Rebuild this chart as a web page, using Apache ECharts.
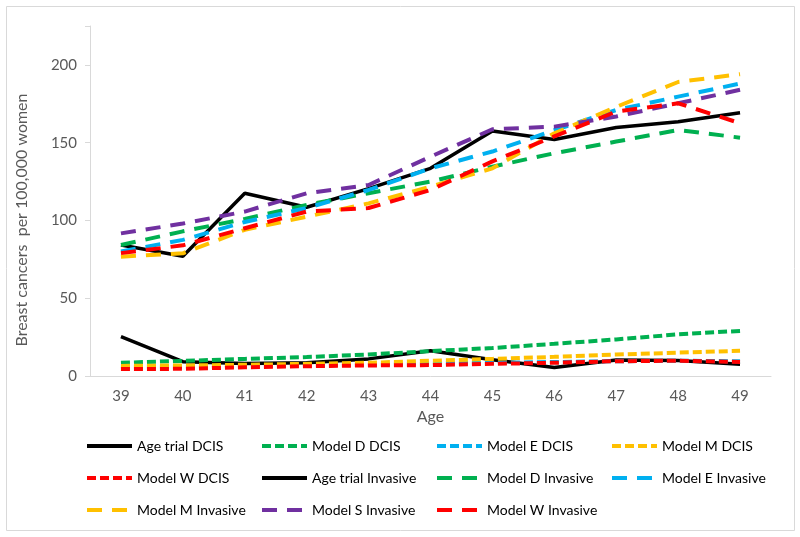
<!DOCTYPE html>
<html><head><meta charset="utf-8">
<script src="https://cdn.jsdelivr.net/npm/echarts@6/dist/echarts.min.js"></script>
<style>html,body{margin:0;padding:0;background:#fff}#c{width:800px;height:537px}</style>
</head><body><div id="c"></div>
<script>
const ages = ['39','40','41','42','43','44','45','46','47','48','49'];
const ageTrialDCIS   = [25.3, 9.2, 8.1, 8.5, 11, 16.3, 10.5, 5.4, 10.3, 10, 7.5];
const modelDDCIS     = [8.5, 9.7, 11, 12.2, 13.8, 16, 18, 20.7, 23.5, 26.8, 29];
const modelEDCIS     = [5.5, 5.8, 6.3, 6.8, 7.2, 8, 8.5, 9, 9.5, 9.8, 9.5];
const modelMDCIS     = [6.5, 6.8, 7.2, 7.8, 8.5, 9.8, 11, 12.3, 13.8, 15, 16.2];
const modelWDCIS     = [4.5, 4.6, 5.6, 6.3, 6.8, 7, 7.8, 8.5, 9.5, 9.8, 9];
const ageTrialInv    = [84.2, 77, 117.5, 108.5, 120.5, 133.5, 157.5, 152, 159.7, 163.5, 169.3];
const modelDInv      = [84.2, 93, 101, 110, 117.5, 125, 134.6, 143.2, 150.7, 158.2, 153.2];
const modelEInv      = [80, 87.5, 99, 108, 119.6, 133.5, 144.3, 158, 171, 179.6, 188];
const modelMInv      = [76.7, 78.9, 94, 102.4, 111, 121.7, 133.5, 156, 173, 189, 194];
const modelSInv      = [91.7, 98, 105.7, 117.5, 122.8, 141, 158.6, 160.3, 166.8, 175.3, 184];
const modelWInv      = [79, 84, 95, 105.7, 108, 119.6, 138, 154, 170, 175.3, 162.5];
const yTicks = [0, 50, 100, 150, 200];

const C = {black:'#000000', green:'#00B050', blue:'#00B0F0', yellow:'#FFC000', red:'#FF0000', purple:'#7030A0'};
const DCIS_DASH = [9, 4];
const INV_DASH = [15, 10];

const seriesDefs = [
  ['Age trial DCIS', ageTrialDCIS, C.black, 'solid'],
  ['Model D DCIS', modelDDCIS, C.green, DCIS_DASH],
  ['Model E DCIS', modelEDCIS, C.blue, DCIS_DASH],
  ['Model M DCIS', modelMDCIS, C.yellow, DCIS_DASH],
  ['Model W DCIS', modelWDCIS, C.red, DCIS_DASH],
  ['Age trial Invasive', ageTrialInv, C.black, 'solid'],
  ['Model D Invasive', modelDInv, C.green, INV_DASH],
  ['Model E Invasive', modelEInv, C.blue, INV_DASH],
  ['Model M Invasive', modelMInv, C.yellow, INV_DASH],
  ['Model S Invasive', modelSInv, C.purple, INV_DASH],
  ['Model W Invasive', modelWInv, C.red, INV_DASH]
];

const FONT = 'Lato';
const colX = [85, 260, 435, 610];
const rowY = [446, 478, 510];
const legends = seriesDefs.map((d, i) => ({
  data: [d[0]],
  left: colX[i % 4],
  top: rowY[Math.floor(i / 4)] - 7,
  itemWidth: 45,
  itemHeight: 14,
  padding: 0,
  selectedMode: false,
  itemStyle: {opacity: 0},
  lineStyle: {width: 4},
  textStyle: {fontFamily: FONT, fontSize: 14, color: '#000'}
}));

const chart = echarts.init(document.getElementById('c'));
chart.setOption({
  animation: false,
  backgroundColor: '#fff',
  grid: {left: 90, right: 29, top: 26, bottom: 161, containLabel: false},
  legend: legends,
  graphic: [
    {type: 'rect', shape: {x: 6.5, y: 6.5, width: 788, height: 524}, style: {fill: 'none', stroke: '#d9d9d9', lineWidth: 1}, silent: true, z: -1},
    {type: 'text', x: 22, y: 220, rotation: Math.PI / 2,
     style: {text: 'Breast cancers  per 100,000 women', fontFamily: FONT, fontSize: 16, fill: '#595959', align: 'center', verticalAlign: 'middle'}}
  ],
  xAxis: {
    type: 'category', data: ages, boundaryGap: true,
    name: 'Age', nameLocation: 'middle', nameGap: 29,
    nameTextStyle: {fontFamily: FONT, fontSize: 16, color: '#595959'},
    axisLine: {lineStyle: {color: '#d9d9d9', width: 1}},
    axisTick: {show: false},
    axisLabel: {fontFamily: FONT, fontSize: 15, color: '#595959', margin: 13}
  },
  yAxis: {
    type: 'value', min: 0, max: 225, interval: 50,
    axisLine: {show: true, lineStyle: {color: '#d9d9d9', width: 1}},
    axisTick: {show: true, length: 5, lineStyle: {color: '#d9d9d9'}},
    splitLine: {show: false},
    axisLabel: {fontFamily: FONT, fontSize: 15, color: '#595959', margin: 13,
      formatter: v => yTicks.includes(v) ? String(v) : ''}
  },
  series: seriesDefs.map(d => ({
    name: d[0], type: 'line', data: d[1], symbol: 'none', showSymbol: false,
    color: d[2],
    lineStyle: {color: d[2], width: d[3] === 'solid' ? 3.5 : 4, type: d[3], cap: 'butt'}
  }))
});
</script></body></html>
